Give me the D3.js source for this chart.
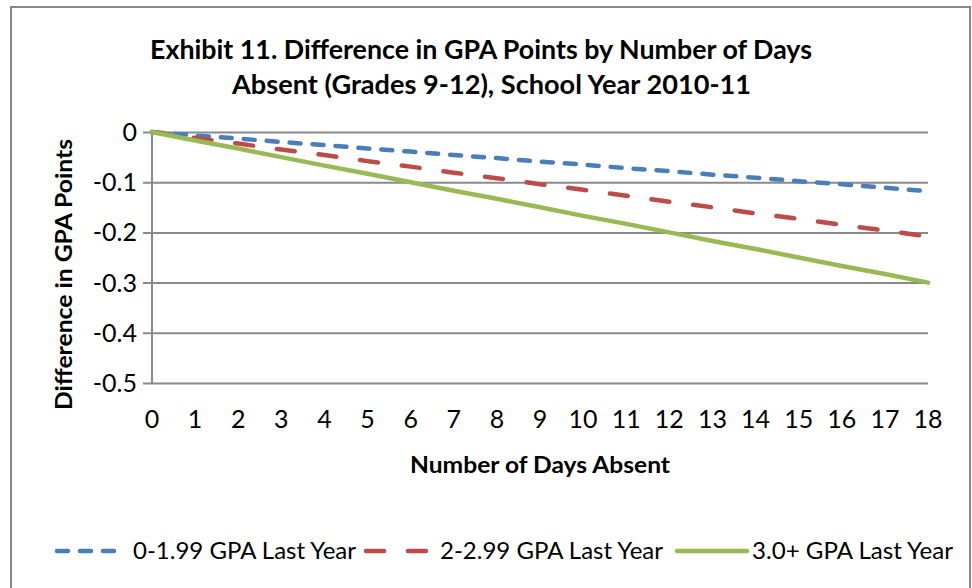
<!DOCTYPE html>
<html>
<head>
<meta charset="utf-8">
<script src="https://cdn.jsdelivr.net/npm/d3@7"></script>
<style>
  body { margin: 0; background: #fff; }
  text { font-family: Lato, "Open Sans", sans-serif; fill: #000; }
</style>
</head>
<body>
<svg id="chart" width="972" height="588"></svg>
<script>
// days absent on the x axis
const days = [0, 1, 2, 3, 4, 5, 6, 7, 8, 9, 10, 11, 12, 13, 14, 15, 16, 17, 18];

// difference in GPA points
const gpaLow = [0, -0.007, -0.013, -0.020, -0.026, -0.033, -0.039, -0.046, -0.052, -0.059,
                -0.065, -0.072, -0.078, -0.085, -0.091, -0.098, -0.104, -0.111, -0.118];
const gpaMid = [0, -0.012, -0.023, -0.035, -0.046, -0.058, -0.069, -0.081, -0.092, -0.104,
                -0.115, -0.127, -0.139, -0.150, -0.162, -0.173, -0.185, -0.196, -0.208];
const gpaHigh = [0, -0.017, -0.033, -0.050, -0.067, -0.083, -0.100, -0.117, -0.133, -0.150,
                 -0.167, -0.183, -0.200, -0.217, -0.233, -0.250, -0.267, -0.283, -0.300];

const seriesNames = ["0-1.99 GPA Last Year", "2-2.99 GPA Last Year", "3.0+ GPA Last Year"];
const yTicks = [0, -0.1, -0.2, -0.3, -0.4, -0.5];

const series = [
  {name: seriesNames[0], values: gpaLow, color: "#4a7ebb", dash: "11,12", lx: 57, lw: 63, tx: 133, tw: 223},
  {name: seriesNames[1], values: gpaMid, color: "#be4b48", dash: "18,24", lx: 366, lw: 63, tx: 440, tw: 223},
  {name: seriesNames[2], values: gpaHigh, color: "#98b954", dash: null, lx: 677, lw: 70, tx: 752, tw: 201}
];

const svg = d3.select("#chart");

// outer chart border
svg.append("rect")
    .attr("x", 11).attr("y", 7)
    .attr("width", 959).attr("height", 620)
    .attr("fill", "#fff")
    .attr("stroke", "#878787")
    .attr("stroke-width", 2);

const x = d3.scalePoint().domain(days).range([152, 928]);
const y = d3.scaleLinear().domain([-0.5, 0]).range([383, 132]);

// gridlines + y ticks
svg.append("g")
    .attr("transform", "translate(152,0)")
    .call(d3.axisLeft(y).tickValues(yTicks).tickSize(-776).tickFormat(""))
    .call(g => g.select(".domain").remove())
    .call(g => g.selectAll("line").attr("stroke", "#8a8a8a").attr("stroke-width", 2).attr("x1", -9));

// y axis line
svg.append("line")
    .attr("x1", 152).attr("x2", 152)
    .attr("y1", y(0)).attr("y2", y(-0.5))
    .attr("stroke", "#8a8a8a").attr("stroke-width", 2);

// y tick labels
svg.append("g")
    .selectAll("text")
    .data(yTicks)
    .join("text")
    .attr("x", 137)
    .attr("y", d => y(d))
    .attr("dy", "0.36em")
    .attr("text-anchor", "end")
    .style("font-size", "25px")
    .text(d => d === 0 ? "0" : d3.format(".1f")(d).replace("−", "-"));

// x tick labels
svg.append("g")
    .selectAll("text")
    .data(days)
    .join("text")
    .attr("x", d => x(d))
    .attr("y", 428)
    .attr("text-anchor", "middle")
    .style("font-size", "25px")
    .text(d => d);

// lines
const line = d3.line()
    .x((d, i) => x(days[i]))
    .y(d => y(d));

svg.append("g")
    .selectAll("path")
    .data(series)
    .join("path")
    .attr("d", d => line(d.values))
    .attr("fill", "none")
    .attr("stroke", d => d.color)
    .attr("stroke-width", 4.5)
    .attr("stroke-linecap", "round")
    .attr("stroke-dasharray", d => d.dash);

// title
const title = ["Exhibit 11. Difference in GPA Points by Number of Days",
               "Absent (Grades 9-12), School Year 2010-11"];
svg.append("text")
    .attr("x", 150).attr("y", 59)
    .attr("textLength", 662).attr("lengthAdjust", "spacingAndGlyphs")
    .style("font-size", "27px").style("font-weight", "bold")
    .text(title[0]);
svg.append("text")
    .attr("x", 232).attr("y", 94)
    .attr("textLength", 519).attr("lengthAdjust", "spacingAndGlyphs")
    .style("font-size", "27px").style("font-weight", "bold")
    .text(title[1]);

// axis titles
svg.append("text")
    .attr("x", 410).attr("y", 473)
    .attr("textLength", 260).attr("lengthAdjust", "spacingAndGlyphs")
    .style("font-size", "23px").style("font-weight", "bold")
    .text("Number of Days Absent");

svg.append("text")
    .attr("transform", "translate(72,410) rotate(-90)")
    .attr("textLength", 271).attr("lengthAdjust", "spacingAndGlyphs")
    .style("font-size", "23px").style("font-weight", "bold")
    .text("Difference in GPA Points");

// legend
const legend = svg.append("g")
    .selectAll("g")
    .data(series)
    .join("g");

legend.append("line")
    .attr("x1", d => d.lx).attr("x2", d => d.lx + d.lw)
    .attr("y1", 551).attr("y2", 551)
    .attr("stroke", d => d.color)
    .attr("stroke-width", 4.5)
    .attr("stroke-linecap", "round")
    .attr("stroke-dasharray", d => d.dash);

legend.append("text")
    .attr("x", d => d.tx).attr("y", 559)
    .attr("textLength", d => d.tw).attr("lengthAdjust", "spacingAndGlyphs")
    .style("font-size", "23px")
    .text(d => d.name);
</script>
</body>
</html>
